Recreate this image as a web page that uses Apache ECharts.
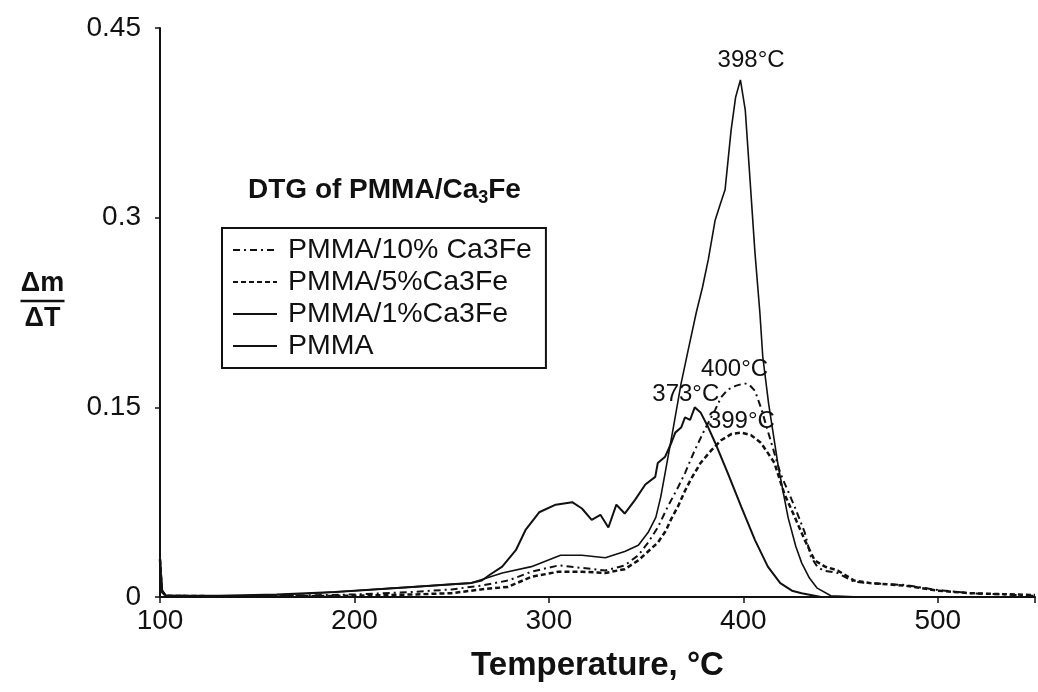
<!DOCTYPE html>
<html>
<head>
<meta charset="utf-8">
<script src="https://cdn.jsdelivr.net/npm/echarts@6/dist/echarts.min.js"></script>
<style>
  html, body { margin: 0; background: #fff; }
  #chart { width: 1038px; height: 692px; }
</style>
</head>
<body>
<div id="chart"></div>
<script>
  // DTG of PMMA/Ca3Fe
  const seriesNames = ['PMMA/10% Ca3Fe', 'PMMA/5%Ca3Fe', 'PMMA/1%Ca3Fe', 'PMMA']

  const t10 = [100, 101, 103, 150, 200, 230, 250, 265, 279, 291, 305, 317, 329, 339, 346, 351, 356, 361, 366.5, 370, 375, 380, 385.5, 388.6, 392, 396, 400.5, 403, 406, 409, 414, 419, 426.5, 431.6, 434.7, 438, 441, 448.5, 457, 465, 483, 500, 517, 550]
  const y10 = [0.03, 0.005, 0.001, 0.0005, 0.002, 0.004, 0.006, 0.009, 0.013, 0.02, 0.025, 0.023, 0.021, 0.025, 0.033, 0.043, 0.055, 0.071, 0.087, 0.098, 0.116, 0.132, 0.148, 0.158, 0.164, 0.167, 0.169, 0.168, 0.163, 0.15, 0.124, 0.098, 0.071, 0.051, 0.032, 0.024, 0.021, 0.019, 0.012, 0.011, 0.0095, 0.0055, 0.003, 0.001]

  const t5 = [100, 101, 103, 150, 200, 230, 250, 265, 279, 291, 305, 317, 329, 339, 346, 351, 356, 360, 363, 366.5, 370, 373, 378, 383.5, 388.6, 394, 399, 404, 409, 413, 416, 421, 426.5, 431.6, 436.7, 442, 448.5, 457, 465, 483, 500, 517, 550]
  const y5 = [0.03, 0.004, 0.001, 0.0003, 0.001, 0.002, 0.003, 0.006, 0.008, 0.016, 0.02, 0.02, 0.019, 0.022, 0.029, 0.036, 0.043, 0.052, 0.062, 0.072, 0.084, 0.093, 0.106, 0.116, 0.124, 0.129, 0.13, 0.128, 0.122, 0.113, 0.106, 0.082, 0.063, 0.045, 0.029, 0.024, 0.021, 0.013, 0.011, 0.009, 0.005, 0.003, 0.0015]

  const t1 = [100, 101, 103, 120, 150, 180, 200, 220, 240, 260, 276, 291, 306, 317, 329, 339, 346, 351, 355, 357.5, 360, 364, 368, 371.6, 375.8, 379, 382, 385.5, 388, 390.6, 393.7, 396, 398.5, 401, 403, 406, 408.5, 410, 413, 418, 423, 427, 430, 434, 438, 445, 460, 550]
  const y1 = [0.03, 0.006, 0.001, 0.0005, 0.001, 0.003, 0.005, 0.007, 0.009, 0.011, 0.019, 0.024, 0.033, 0.033, 0.031, 0.036, 0.041, 0.051, 0.063, 0.079, 0.1, 0.134, 0.169, 0.195, 0.225, 0.245, 0.267, 0.298, 0.31, 0.322, 0.369, 0.395, 0.409, 0.385, 0.34, 0.272, 0.225, 0.19, 0.153, 0.103, 0.063, 0.04, 0.027, 0.015, 0.007, 0.001, 0, 0]

  const tP = [100, 101, 103, 130, 160, 190, 210, 230, 250, 260, 265.5, 270, 276, 283, 288, 293, 295, 303.5, 312, 317, 322, 326.5, 330.6, 334.7, 339, 344.4, 349.6, 354.7, 356, 359.8, 363, 365, 368, 370, 372.6, 375, 378, 382, 385.5, 392, 399, 406, 412.6, 419, 425, 430, 440, 550]
  const yP = [0.03, 0.005, 0.001, 0.001, 0.002, 0.004, 0.006, 0.008, 0.01, 0.011, 0.013, 0.018, 0.024, 0.037, 0.053, 0.063, 0.067, 0.073, 0.075, 0.07, 0.061, 0.065, 0.055, 0.073, 0.066, 0.077, 0.089, 0.095, 0.106, 0.111, 0.122, 0.13, 0.134, 0.142, 0.14, 0.15, 0.146, 0.134, 0.122, 0.098, 0.071, 0.045, 0.024, 0.011, 0.005, 0.003, 0, 0]

  // peak annotations: text and its anchor in data units
  const peakText = ['400°C', '399°C', '398°C', '373°C']
  const peakT = [395.5, 399, 404, 370.4]
  const peakY = [0.1803, 0.139, 0.4247, 0.1605]

  const lineDash = [[7, 4, 2, 4], [5, 3], 'solid', 'solid']
  const lineWidth = [2, 2.5, 1.6, 2]
  const xs = [t10, t5, t1, tP]
  const ys = [y10, y5, y1, yP]

  const font = 'Liberation Sans, Arial, sans-serif'
  const ink = '#111'

  let chart = echarts.init(document.getElementById('chart'))

  let series = seriesNames.map((name, i) => ({
    name: name,
    type: 'line',
    symbol: 'none',
    data: xs[i].map((t, k) => [t, ys[i][k]]),
    lineStyle: { color: ink, width: lineWidth[i], type: lineDash[i] },
    itemStyle: { color: ink },
    markPoint: {
      symbol: 'circle',
      symbolSize: 1,
      itemStyle: { color: 'transparent' },
      label: {
        show: true, position: 'inside', color: ink,
        fontFamily: font, fontSize: 24,
        formatter: peakText[i]
      },
      data: [{ coord: [peakT[i], peakY[i]] }]
    }
  }))

  let option = {
    backgroundColor: '#fff',
    animation: false,
    title: {
      text: '{a|DTG of PMMA/Ca}{s|3}{a|Fe}',
      left: 243, top: 168,
      textStyle: {
        rich: {
          a: { fontFamily: font, fontWeight: 'bold', fontSize: 28, color: ink, lineHeight: 34 },
          s: { fontFamily: font, fontWeight: 'bold', fontSize: 18, color: ink, lineHeight: 18, verticalAlign: 'bottom' }
        }
      }
    },
    legend: {
      data: seriesNames,
      orient: 'vertical',
      left: 222, top: 228,
      padding: [7, 14, 7, 10],
      itemGap: 2,
      itemWidth: 44,
      itemHeight: 20,
      borderColor: ink,
      borderWidth: 2,
      borderRadius: 0,
      itemStyle: { opacity: 0 },
      textStyle: { fontFamily: font, fontSize: 28.5, color: ink, lineHeight: 30, padding: [0, 0, 0, 6] }
    },
    grid: { left: 160, top: 28, width: 882, height: 569 },
    xAxis: {
      type: 'value',
      min: 100, max: 550, interval: 100,
      name: 'Temperature, °C',
      nameLocation: 'middle',
      nameGap: 52,
      nameTextStyle: { fontFamily: font, fontWeight: 'bold', fontSize: 33, color: ink },
      axisLine: { lineStyle: { color: ink, width: 2 } },
      axisTick: { length: 6, lineStyle: { color: ink, width: 1.5 } },
      axisLabel: {
        margin: 10, fontFamily: font, fontSize: 28, color: ink,
        formatter: v => (v === 550 ? '' : String(v))
      },
      splitLine: { show: false }
    },
    yAxis: {
      type: 'value',
      min: 0, max: 0.45, interval: 0.15,
      axisLine: { show: true, lineStyle: { color: ink, width: 2 } },
      axisTick: { show: true, length: 5, lineStyle: { color: ink, width: 1.5 } },
      axisLabel: {
        margin: 19, fontFamily: font, fontSize: 28, color: ink,
        formatter: v => String(Math.round(v * 100) / 100)
      },
      splitLine: { show: false }
    },
    graphic: [
      {
        type: 'group', left: 18, top: 270,
        children: [
          { type: 'text', x: 22, y: 0, style: { text: 'Δm', fontFamily: font, fontWeight: 'bold', fontSize: 27, fill: ink, textAlign: 'center' } },
          { type: 'line', shape: { x1: 0, y1: 31, x2: 44, y2: 31 }, style: { stroke: ink, lineWidth: 2.5 } },
          { type: 'text', x: 22, y: 35, style: { text: 'ΔT', fontFamily: font, fontWeight: 'bold', fontSize: 27, fill: ink, textAlign: 'center' } }
        ]
      }
    ],
    series: series
  }

  chart.setOption(option)
</script>
</body>
</html>
